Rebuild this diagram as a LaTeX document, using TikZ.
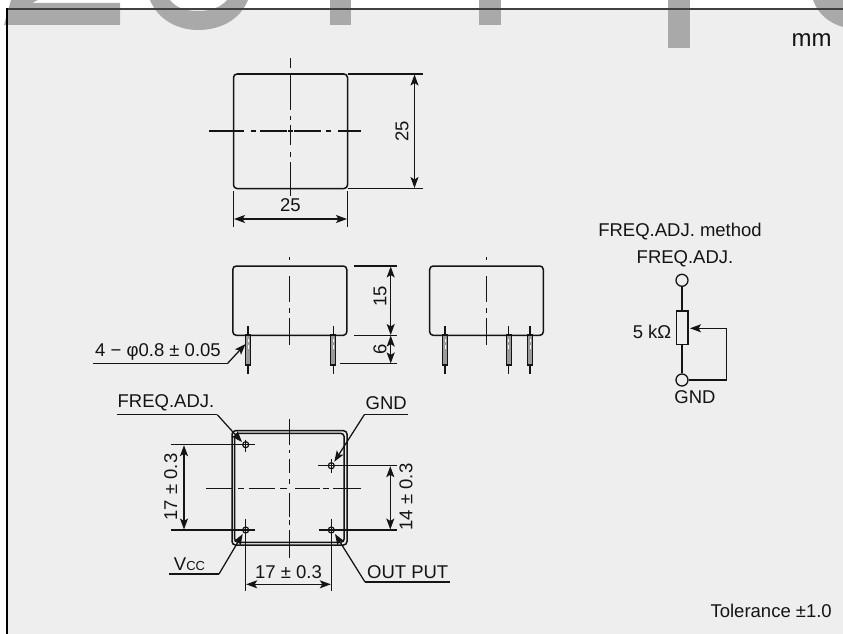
\documentclass[tikz,border=0pt]{standalone}
\usepackage{fontspec}
\setmainfont{Liberation Sans}
\usetikzlibrary{arrows.meta}
\definecolor{panel}{HTML}{EEEEEE}
\definecolor{wm}{HTML}{A9A9A9}
\definecolor{ink}{HTML}{141414}
\definecolor{pinfill}{HTML}{9A9A9A}
\tikzset{
  x=1pt,y=-1pt,
  ln/.style={draw=ink,line width=1.25pt},
  body/.style={draw=ink,line width=1.5pt,rounded corners=3.5pt},
  dim/.style={ln,{Stealth[length=11pt,width=8pt,inset=2.5pt]}-{Stealth[length=11pt,width=8pt,inset=2.5pt]}},
  lead/.style={ln,-{Stealth[length=11pt,width=8pt,inset=2.5pt]}},
  txt/.style={inner sep=0pt,text=ink,font=\fontsize{18.5}{20}\selectfont},
  pin/.style={draw=ink,line width=1.2pt,fill=pinfill},
  hole/.style={draw=ink,line width=1.2pt,fill=none},
  term/.style={circle,draw=ink,line width=1.3pt,fill=panel,minimum size=12pt,inner sep=0pt},
}
\newcommand{\pinat}[1]{%
  \draw[ln] (#1,326) -- (#1,335);
  \draw[pin] (#1-2.5,335) rectangle (#1+2.5,365);
  \draw[ln] (#1,365) -- (#1,374);
  \draw[white,line width=1pt] (#1,339) -- (#1,342) (#1,345) -- (#1,349);
}
\newcommand{\vseg}[3]{\draw[ln] (#1,#2) -- (#1,#3);}
\newcommand{\hseg}[3]{\draw[ln] (#2,#1) -- (#3,#1);}
\begin{document}
\begin{tikzpicture}
\useasboundingbox (0,0) rectangle (843,634);
\fill[white] (0,0) rectangle (843,634);
\fill[panel] (7,9) rectangle (843,634);
% watermark
\fill[wm] (4,25) -- (11,0) -- (38,0) -- (32,3) -- (120,3) -- (120,25) -- cycle;
\fill[wm] (150,0) .. controls (158,20) and (178,30) .. (198,30) .. controls (220,30) and (240,20) .. (248,0) -- (227,0) .. controls (220,8) and (210,11) .. (198,11) .. controls (186,11) and (176,8) .. (170,0) -- cycle;
\fill[wm] (329.5,0) rectangle (351,25);
\fill[wm] (479,0) rectangle (500.5,25);
\fill[wm] (668,0) rectangle (690,48);
\fill[wm] (813,0) .. controls (818,14) and (829,23) .. (843,27) -- (843,0) -- cycle;
% frame
\draw[draw=black!75,line width=1.8pt] (843,9) -- (7,9);
\draw[draw=black,line width=1.8pt] (7,8.2) -- (7,634);
\node[txt,font=\fontsize{24}{26}\selectfont,anchor=base] (unit) at (811.5,47) {mm};
\node[txt,anchor=base east] (tol) at (832,617.5) {Tolerance ±1.0};

% top view
\draw[body] (233.5,74) rectangle (347.5,188.5);
\hseg{131}{209}{244}\hseg{131}{251}{256}\hseg{131}{260}{287}\hseg{131}{288}{293}\hseg{131}{294}{321}\hseg{131}{326}{331}\hseg{131}{338}{361}
\vseg{290.3}{58}{68}\vseg{290.3}{74}{110}\vseg{290.3}{116}{120}\vseg{290.3}{125}{145}\vseg{290.3}{152}{157}\vseg{290.3}{162}{196}
\coordinate (tra) at (347.5,74);\coordinate (trb) at (423,74);
\coordinate (bra) at (347.5,188.5);\coordinate (brb) at (423,188.5);
\draw[ln] (tra) -- (trb) (bra) -- (brb);
\draw[dim] (414.5,74.5) -- (414.5,188);
\node[txt,rotate=90] (t25r) at (402,131) {25};
\draw[ln] (233.5,191) -- (233.5,227) (347.5,191) -- (347.5,227);
\draw[dim] (234,219) -- (347,219);
\node[txt] (t25b) at (290.3,205.5) {25};

% side view left
\draw[body] (232.8,335.3) -- (232.8,266) -- (346.8,266) -- (346.8,335.3) -- cycle;
\vseg{289.7}{257}{260}\vseg{289.7}{276}{302}\vseg{289.7}{308}{313}\vseg{289.7}{318}{345}
\pinat{248}\pinat{333.3}
\draw[ln] (354,266) -- (396.7,266) (354,335.3) -- (396.7,335.3) (340,363.7) -- (396.7,363.7);
\draw[dim] (390.7,266.5) -- (390.7,335);
\draw[dim] (390.7,335.6) -- (390.7,363.4);
\node[txt,rotate=90] (t15) at (380,296) {15};
\node[txt,rotate=90] (t6) at (380,349) {6};
\node[txt] (tpin) at (158,351.7) {4 − φ0.8 ± 0.05};
\coordinate (pinA) at (92.7,363.7);\coordinate (pinB) at (227.3,363.7);\coordinate (pinC) at (245.5,344);
\draw[ln] (pinA) -- (pinB);
\draw[lead] (pinB) -- (pinC);

% side view right
\draw[body] (429.7,335.3) -- (429.7,266) -- (543.3,266) -- (543.3,335.3) -- cycle;
\vseg{486.7}{257}{260}\vseg{486.7}{276}{302}\vseg{486.7}{308}{313}\vseg{486.7}{318}{345}
\pinat{445}\pinat{508.7}\pinat{530}

% bottom view
\draw[body] (232,430.7) rectangle (347,545);
\draw[body] (234.7,433.3) rectangle (344.2,542.3);
\hseg{488.3}{206}{232.7}\hseg{488.3}{238}{244}\hseg{488.3}{249}{275}\hseg{488.3}{280}{287}\hseg{488.3}{295}{320}\hseg{488.3}{323}{329}\hseg{488.3}{333}{360.7}
\vseg{289.3}{419}{445}\vseg{289.3}{450}{453}\vseg{289.3}{459}{473}\vseg{289.3}{479}{484}\vseg{289.3}{493}{517}\vseg{289.3}{520}{525}\vseg{289.3}{530}{557.7}
\draw[hole] (245.7,444.7) circle (3pt);
\draw[hole] (245.7,530) circle (3pt);
\draw[hole] (331.3,465.7) circle (3pt);
\draw[hole] (331.3,530) circle (3pt);
\draw[ln] (171,444.7) -- (255,444.7) (245.7,439.5) -- (245.7,452);
\draw[ln] (171,530) -- (255,530) (245.7,519) -- (245.7,591);
\draw[ln] (318,465.7) -- (397,465.7) (331.3,459) -- (331.3,473);
\draw[ln] (319.3,530) -- (397,530) (331.3,519) -- (331.3,591);
\draw[dim] (184,445.2) -- (184,529.5);
\node[txt,rotate=90] (t17l) at (170.7,487) {17 ± 0.3};
\draw[dim] (390.3,466.2) -- (390.3,529.5);
\node[txt,rotate=90] (t14) at (406,497) {14 ± 0.3};
\draw[dim] (246.2,584.3) -- (330.8,584.3);
\node[txt] (t17b) at (288.5,571.7) {17 ± 0.3};

% pin labels
\node[txt] (lfreq) at (166,403) {FREQ.ADJ.};
\coordinate (fa) at (116.7,414.7);\coordinate (fb) at (217.3,414.7);\coordinate (fc) at (242,442);
\draw[ln] (fa) -- (fb); \draw[lead] (fb) -- (fc);
\node[txt] (lgnd) at (386.3,403) {GND};
\coordinate (ga) at (407.7,414.7);\coordinate (gb) at (364.3,414.7);\coordinate (gc) at (334.3,461.7);
\draw[ln] (ga) -- (gb); \draw[lead] (gb) -- (gc);
\node[txt] (lvcc) at (189.5,564) {V\fontsize{13}{14}\selectfont CC};
\coordinate (va) at (169,574);\coordinate (vb) at (219,574);\coordinate (vc) at (242.7,534);
\draw[ln] (va) -- (vb); \draw[lead] (vb) -- (vc);
\node[txt] (lout) at (407.7,571.7) {OUT PUT};
\coordinate (oa) at (450,582);\coordinate (ob) at (365,582);\coordinate (oc) at (335,534);
\draw[ln] (oa) -- (ob); \draw[lead] (ob) -- (oc);

% schematic
\node[txt] (smeth) at (680,232) {FREQ.ADJ. method};
\node[txt] (sfreq) at (685,259) {FREQ.ADJ.};
\node[term] (st) at (682,280.3) {};
\node[term] (sb) at (682,380) {};
\node[draw=ink,line width=1.3pt,minimum width=11.7pt,minimum height=33.3pt,inner sep=0pt] (res) at (682,327.7) {};
\draw[ln] (st) -- (res.north);
\draw[ln] (res.south) -- (sb);
\coordinate (c1) at (726.7,380);\coordinate (c2) at (726.7,328.3);\coordinate (c3) at (690,328.3);
\draw[lead] (sb) -- (c1) -- (c2) -- (c3);
\node[txt] (skohm) at (652,331.7) {5 kΩ};
\node[txt] (sgnd) at (695,397.5) {GND};
\end{tikzpicture}
\end{document}
